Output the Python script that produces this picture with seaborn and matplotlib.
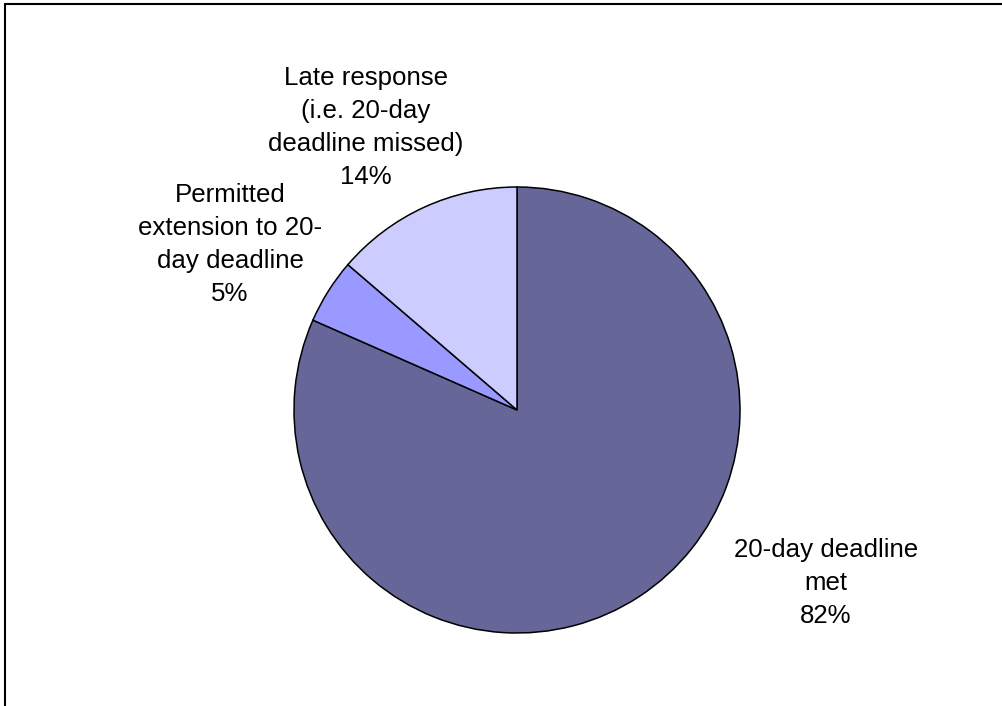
import matplotlib
matplotlib.use("Agg")
import matplotlib.pyplot as plt
from matplotlib.lines import Line2D
import seaborn as sns

# Response times (share of requests, %)
categories = [
    "20-day deadline\nmet",
    "Permitted\nextension to 20-\nday deadline",
    "Late response\n(i.e. 20-day\ndeadline missed)",
]
shares = [81.6, 4.7, 13.7]
colors = ["#666699", "#9999FF", "#CCCCFF"]

# where each label sits, in pie-radius units
label_pos = [(1.386, -0.776), (-1.287, 0.742), (-0.677, 1.267)]

sns.set_style("white")
plt.rcParams["font.family"] = ["Liberation Sans", "DejaVu Sans"]

W, H = 1003, 706
cx, cy, r = 517, 410, 223  # pie centre and radius in pixels

fig = plt.figure(figsize=(W / 100, H / 100), dpi=100)
ax = fig.add_axes([0, 0, 1, 1])

ax.pie(shares, colors=colors, startangle=90, counterclock=False,
       wedgeprops=dict(edgecolor="black", linewidth=1.1))

total = sum(shares)
for name, val, (x, y) in zip(categories, shares, label_pos):
    ax.text(x, y, f"{name}\n{round(val / total * 100)}%", ha="center", va="center",
            fontsize=18.6, linespacing=1.46, color="black")

ax.set_xlim(-cx / r, (W - cx) / r)
ax.set_ylim(-(H - cy) / r, cy / r)
ax.set_aspect("equal")
ax.axis("off")

# chart frame: only the top and left edges are visible in the original
fig.add_artist(Line2D([5 / W, 1], [1 - 3.5 / H, 1 - 3.5 / H], color="black", lw=1.5))
fig.add_artist(Line2D([5.5 / W, 5.5 / W], [0, 1 - 3.5 / H], color="black", lw=1.5))

fig.savefig("out.png", dpi=100)
